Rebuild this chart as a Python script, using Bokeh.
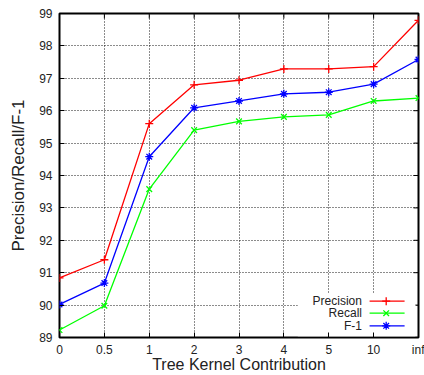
import math
from bokeh.plotting import figure
from bokeh.models import FixedTicker, Range1d
from bokeh.core.properties import value
from bokeh.embed import file_html
from bokeh.resources import INLINE

categories = ["0", "0.5", "1", "2", "3", "4", "5", "10", "inf"]
precision = [90.84, 91.40, 95.60, 96.80, 96.94, 97.29, 97.29, 97.36, 98.79]
recall = [89.23, 89.98, 93.58, 95.40, 95.67, 95.81, 95.87, 96.30, 96.39]
f1 = [90.02, 90.68, 94.58, 96.09, 96.30, 96.52, 96.57, 96.82, 97.58]
y_ticks = list(range(89, 100))

FONT = "Liberation Sans"
TXT = "#222222"
xs = list(range(len(categories)))

p = figure(width=424, height=375, output_backend="svg", toolbar_location=None,
           x_range=Range1d(xs[0], xs[-1]), y_range=Range1d(y_ticks[0], y_ticks[-1]),
           min_border_left=59, min_border_right=6, min_border_top=13, min_border_bottom=0)
p.background_fill_color = "white"
p.border_fill_color = "white"
p.outline_line_color = "black"
p.outline_line_width = 2

p.xaxis.ticker = FixedTicker(ticks=xs)
p.xaxis.major_label_overrides = {i: c for i, c in enumerate(categories)}
p.yaxis.ticker = FixedTicker(ticks=y_ticks)

for ax in (p.xaxis[0], p.yaxis[0]):
    ax.axis_line_color = None
    ax.major_tick_in = 5
    ax.major_tick_out = 0
    ax.major_tick_line_color = "black"
    ax.minor_tick_line_color = None
    ax.major_label_text_font = FONT
    ax.major_label_text_font_size = "12px"
    ax.major_label_text_color = TXT
    ax.axis_label_text_font = FONT
    ax.axis_label_text_font_style = "normal"
    ax.axis_label_text_color = TXT

p.xaxis.axis_label = "Tree Kernel Contribution"
p.yaxis.axis_label = "Precision/Recall/F-1"
p.xaxis.major_label_standoff = 5
p.yaxis.major_label_standoff = 7
p.xaxis.axis_label_standoff = -4
p.yaxis.axis_label_standoff = 8
p.xaxis.axis_label_text_font_size = "16px"
p.yaxis.axis_label_text_font_size = "17px"

p.xgrid.ticker = FixedTicker(ticks=xs)
p.ygrid.ticker = FixedTicker(ticks=y_ticks)
for g in (p.xgrid[0], p.ygrid[0]):
    g.grid_line_color = "black"
    g.grid_line_dash = "1 2"
    g.grid_line_width = 1
    g.grid_line_alpha = 0.9

# mirrored inward ticks on the right and top borders (gnuplot style)
p.scatter([xs[-1]] * len(y_ticks), y_ticks, marker="dash", size=10, line_color="black", line_width=1)
p.scatter(xs, [y_ticks[-1]] * len(xs), marker="dash", angle=math.pi / 2, size=10,
          line_color="black", line_width=1)

series = [("Precision", precision, "#ff0000", "cross"),
          ("Recall", recall, "#00ff00", "x"),
          ("F-1", f1, "#0000ff", "asterisk")]

for name, vals, col, mk in series:
    p.line(xs, vals, line_color=col, line_width=1.3)
    p.scatter(xs, vals, marker=mk, size=8, line_color=col, line_width=1.3)

# gnuplot-style key (text to the left of the sample), bottom right, white backing
p.quad(left=[5.31], right=[7.93], bottom=[89.04], top=[90.35], fill_color="white", line_color=None)
rows = [90.12, 89.75, 89.36]
for (name, vals, col, mk), ry in zip(series, rows):
    p.text(x=[6.74], y=[ry], text=[name], text_align="right", text_baseline="middle",
           text_font=value(FONT), text_font_size="12px", text_color=TXT)
    p.segment(x0=[6.91], y0=[ry], x1=[7.69], y1=[ry], line_color=col, line_width=1.3)
    p.scatter([7.28], [ry], marker=mk, size=8, line_color=col, line_width=1.3)

open("out.html", "w").write(file_html(p, INLINE))
